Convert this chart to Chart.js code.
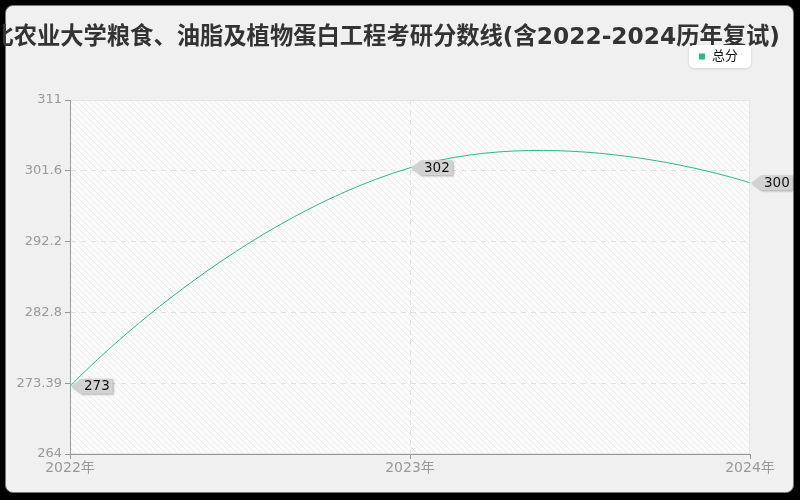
<!DOCTYPE html>
<html>
<head>
<meta charset="utf-8">
<script src="https://cdn.jsdelivr.net/npm/chart.js@4.4.1/dist/chart.umd.min.js"></script>
<style>
  html, body { margin: 0; padding: 0; background: #000; }
  #frame {
    position: absolute; left: 5px; top: 5px; width: 789px; height: 488px;
    box-sizing: border-box; border: 1px solid #777; border-radius: 8px;
    background: #f0f0f0;
  }
  #wrap { position: absolute; left: 0; top: 0; width: 800px; height: 500px; }
</style>
</head>
<body>
<div id="frame"></div>
<div id="wrap"><canvas id="myChart" width="800" height="500"></canvas></div>
<script>
const titleText = "东北农业大学粮食、油脂及植物蛋白工程考研分数线(含2022-2024历年复试)";
const years = ["2022年", "2023年", "2024年"];
const totalScores = [273, 302, 300];
const yTicks = [264, 273.39, 282.8, 292.2, 301.6, 311];

const FONT = '"DejaVu Sans", "Noto Sans CJK SC", sans-serif';
const green = "#2bb98b";
const smooth = 0.5;

// light hatched fill for the plot area
function hatch() {
  const c = document.createElement("canvas");
  c.width = 6; c.height = 6;
  const g = c.getContext("2d");
  g.fillStyle = "#fbfbfb";
  g.fillRect(0, 0, 6, 6);
  g.strokeStyle = "#ececec";
  g.lineWidth = 1;
  g.beginPath();
  g.moveTo(-1, -1); g.lineTo(7, 7);
  g.moveTo(-1, 5); g.lineTo(1, 7);
  g.moveTo(5, -1); g.lineTo(7, 1);
  g.stroke();
  return c;
}

const plotBg = {
  id: "plotBg",
  beforeDraw(chart) {
    const { ctx, chartArea: a } = chart;
    ctx.save();
    ctx.fillStyle = ctx.createPattern(hatch(), "repeat");
    ctx.fillRect(a.left, a.top, a.right - a.left, a.bottom - a.top);
    ctx.strokeStyle = "#e6e6e6";
    ctx.lineWidth = 1;
    ctx.strokeRect(a.left + 0.5, a.top + 0.5, a.right - a.left - 1, a.bottom - a.top - 1);
    ctx.restore();
  }
};

// wide title, allowed to run past the canvas edge like the original
const wideTitle = {
  id: "wideTitle",
  afterDraw(chart) {
    const { ctx } = chart;
    ctx.save();
    ctx.font = "bold 23.3px " + FONT;
    ctx.fillStyle = "#333";
    ctx.textAlign = "right";
    ctx.textBaseline = "middle";
    ctx.fillText(titleText, 780, 38);
    ctx.restore();
  }
};

// smoothing with end points as their own control points
const smoothCurve = {
  id: "smoothCurve",
  beforeDatasetDraw(chart, args) {
    const meta = args.meta;
    meta.dataset.updateControlPoints(chart.chartArea, "x");
    const pts = meta.data;
    pts.forEach((p, i) => {
      if (i === 0 || i === pts.length - 1) {
        p.cp1x = p.cp2x = p.x;
        p.cp1y = p.cp2y = p.y;
        return;
      }
      const a = pts[i - 1], b = pts[i + 1];
      const vx = (b.x - a.x) * smooth, vy = (b.y - a.y) * smooth;
      const d0 = Math.hypot(p.x - a.x, p.y - a.y);
      const d1 = Math.hypot(b.x - p.x, b.y - p.y);
      const f0 = d0 / (d0 + d1), f1 = d1 / (d0 + d1);
      p.cp1x = p.x - vx * f0; p.cp1y = p.y - vy * f0;
      p.cp2x = p.x + vx * f1; p.cp2y = p.y + vy * f1;
    });
  }
};

const legendBox = {
  id: "legendBox",
  afterDraw(chart) {
    const { ctx, chartArea: a } = chart;
    const ds = chart.data.datasets[0];
    ctx.save();
    ctx.font = "13px " + FONT;
    const tw = ctx.measureText(ds.label).width;
    const w = tw + 36, h = 23;
    const x = a.right + 1 - w, y = 45;
    ctx.shadowColor = "rgba(0,0,0,0.12)";
    ctx.shadowBlur = 3;
    ctx.shadowOffsetY = 1;
    ctx.fillStyle = "#fff";
    ctx.beginPath();
    ctx.roundRect(x, y, w, h, 5);
    ctx.fill();
    ctx.shadowColor = "transparent";
    ctx.fillStyle = ds.borderColor;
    ctx.fillRect(x + 10, y + 8.5, 6, 6);
    ctx.fillStyle = "#111";
    ctx.textBaseline = "middle";
    ctx.fillText(ds.label, x + 23, y + h / 2 + 0.5);
    ctx.restore();
  }
};

const valueTags = {
  id: "valueTags",
  afterDatasetsDraw(chart) {
    const { ctx } = chart;
    const meta = chart.getDatasetMeta(0);
    const vals = chart.data.datasets[0].data;
    ctx.save();
    ctx.font = "13.5px " + FONT;
    meta.data.forEach((pt, i) => {
      const txt = String(vals[i]);
      const tw = ctx.measureText(txt).width;
      const x = pt.x + 1, y = pt.y, h = 15, arrow = 10, w = tw + 6;
      ctx.save();
      ctx.shadowColor = "rgba(0,0,0,0.3)";
      ctx.shadowBlur = 2;
      ctx.shadowOffsetX = 1;
      ctx.shadowOffsetY = 1;
      ctx.fillStyle = "#d2d2d2";
      ctx.beginPath();
      ctx.moveTo(x, y);
      ctx.lineTo(x + arrow, y - h / 2);
      ctx.lineTo(x + arrow + w, y - h / 2);
      ctx.lineTo(x + arrow + w, y + h / 2);
      ctx.lineTo(x + arrow, y + h / 2);
      ctx.closePath();
      ctx.fill();
      ctx.restore();
      ctx.fillStyle = "#111";
      ctx.textBaseline = "middle";
      ctx.fillText(txt, x + arrow + 3, y + 0.5);
    });
    ctx.restore();
  }
};

const ctx = document.getElementById("myChart").getContext("2d");
new Chart(ctx, {
  type: "line",
  data: {
    labels: years,
    datasets: [{
      label: "总分",
      data: totalScores,
      borderColor: green,
      backgroundColor: green,
      borderWidth: 1,
      tension: 0.4,
      pointRadius: 0,
      fill: false
    }]
  },
  options: {
    responsive: false,
    animation: false,
    layout: { padding: { left: 13, right: 50, top: 100, bottom: 0 } },
    plugins: {
      legend: { display: false },
      tooltip: { enabled: false },
      title: { display: false }
    },
    scales: {
      x: {
        offset: false,
        grid: {
          color: c => (c.index === 1 ? "#e2e2e2" : "rgba(0,0,0,0)"),
          tickColor: "#999",
          tickLength: 5
        },
        border: { color: "#999", dash: [5, 5] },
        ticks: { color: "#999", font: { family: FONT, size: 14 }, padding: 1, maxRotation: 0 },
        afterFit: s => { s.height = 46; }
      },
      y: {
        min: 264,
        max: 311,
        afterBuildTicks: s => { s.ticks = yTicks.map(v => ({ value: v })); },
        grid: {
          color: c => (c.index === 0 || c.index === yTicks.length - 1 ? "rgba(0,0,0,0)" : "#e2e2e2"),
          tickColor: "#999",
          tickLength: 5
        },
        border: { color: "#999", dash: [5, 5] },
        ticks: { color: "#999", font: { family: FONT, size: 13 }, padding: 3, callback: v => String(v) },
        afterFit: s => { s.width = 57; }
      }
    }
  },
  plugins: [plotBg, wideTitle, smoothCurve, legendBox, valueTags]
});
</script>
</body>
</html>
